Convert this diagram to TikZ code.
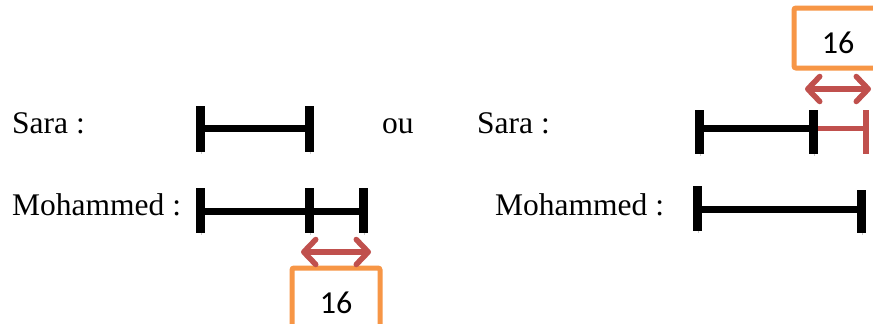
\documentclass[tikz,border=0pt]{standalone}
\usepackage{fontspec}
\setmainfont{Liberation Serif}
\newfontfamily\boxfont{Carlito}
\usetikzlibrary{arrows.meta}
\tikzset{
  person/.style={anchor=base west, inner sep=0pt, font=\fontsize{31.5}{36}\selectfont},
  bar/.style={line width=7pt, black, preaction={draw=black!22, transform canvas={shift={(1.5,2)}}}},
  tick/.style={line width=9pt, black, preaction={draw=black!22, transform canvas={shift={(1.5,2)}}}},
  redbar/.style={line width=5pt, draw={rgb,255:red,192;green,80;blue,77}},
  redtick/.style={line width=6pt, draw={rgb,255:red,192;green,80;blue,77}},
  gap/.style={line width=5.5pt, draw={rgb,255:red,192;green,80;blue,77},
    {Straight Barb[length=12pt,width=25pt,round]}-{Straight Barb[length=12pt,width=25pt,round]}},
  valuebox/.style={draw={rgb,255:red,247;green,150;blue,70}, line width=5pt, rounded corners=2pt,
    minimum width=88pt, minimum height=60pt, text height=30pt, text depth=0pt,
    font=\boxfont\fontsize{32}{36}\selectfont}
}
\begin{document}
\begin{tikzpicture}[x=1pt,y=-1pt]
            \path[use as bounding box, clip] (0,0) rectangle (873,324);
            \fill[white] (0,0) rectangle (873,324);

            \node[person] (sara1) at (12,133) {Sara :};
            \node[person] (moha1) at (12,215) {Mohammed :};
            \node[person] (ou) at (382,133) {ou};
            \node[person] (sara2) at (477,133) {Sara :};
            \node[person] (moha2) at (495,215) {Mohammed :};

            \coordinate (s1a) at (200,128);
            \coordinate (s1b) at (309,128);
            \coordinate (m1a) at (200,211);
            \coordinate (m1b) at (309,211);
            \coordinate (m1c) at (363,211);
            \coordinate (s2a) at (699,128);
            \coordinate (s2b) at (813,128);
            \coordinate (s2c) at (866,128);
            \coordinate (m2a) at (697,209);
            \coordinate (m2b) at (861,209);

            \draw[bar] (s1a) -- (s1b);
            \draw[tick] (s1a) ++(0,-22) -- ++(0,46);
            \draw[tick] (s1b) ++(0,-22) -- ++(0,46);

            \draw[bar] (m1a) -- (m1c);
            \draw[tick] (m1a) ++(0,-23) -- ++(0,45);
            \draw[tick] (m1b) ++(0,-23) -- ++(0,45);
            \draw[tick] (m1c) ++(0,-23) -- ++(0,45);

            \draw[redbar] (s2b) -- (s2c);
            \draw[redtick] (s2c) ++(0,-18) -- ++(0,44);
            \draw[bar] (s2a) -- (s2b);
            \draw[tick] (s2a) ++(0,-18) -- ++(0,44);
            \draw[tick] (s2b) ++(0,-18) -- ++(0,44);

            \draw[bar] (m2a) -- (m2b);
            \draw[tick] (m2a) ++(0,-23) -- ++(0,45);
            \draw[tick] (m2b) ++(0,-19) -- ++(0,43);

            \node[valuebox] (v1) at (336,298) {16};
            \node[valuebox] (v2) at (838,38) {16};

            \coordinate (g1a) at (301,252);
            \coordinate (g1b) at (371,252);
            \coordinate (g2a) at (805,89);
            \coordinate (g2b) at (871,89);
            \draw[gap] (g1a) -- (g1b);
            \draw[gap] (g2a) -- (g2b);
        \end{tikzpicture}
\end{document}
